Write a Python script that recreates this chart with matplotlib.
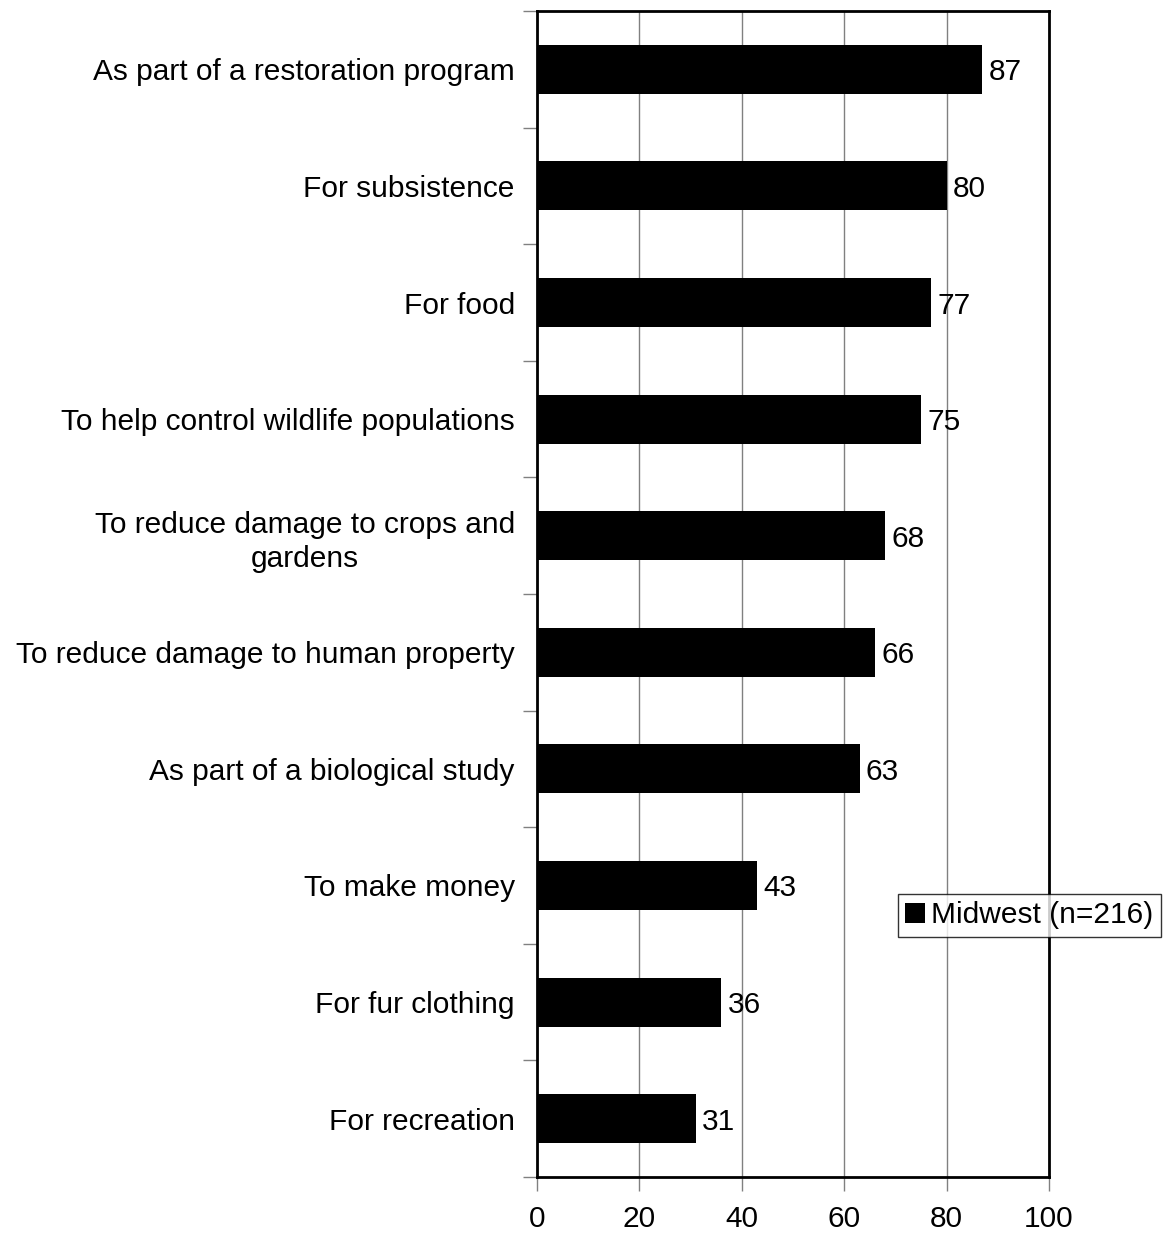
import matplotlib.pyplot as plt
from matplotlib.ticker import FixedLocator

plt.rcParams['font.family'] = ['Liberation Sans', 'DejaVu Sans']

# Data, top to bottom as in the chart
reasons = [
    "As part of a restoration program",
    "For subsistence",
    "For food",
    "To help control wildlife populations",
    "To reduce damage to crops and\ngardens",
    "To reduce damage to human property",
    "As part of a biological study",
    "To make money",
    "For fur clothing",
    "For recreation",
]
midwest = [87, 80, 77, 75, 68, 66, 63, 43, 36, 31]
series_label = "Midwest (n=216)"
x_ticks = [0, 20, 40, 60, 80, 100]

FS = 21.5

fig = plt.figure(figsize=(11.69, 12.33), dpi=100)
ax = fig.add_axes([537 / 1169, 56 / 1233, 512 / 1169, 1166 / 1233])

ypos = list(range(len(reasons)))
bars = ax.barh(ypos, midwest, height=0.42, color='black', label=series_label, zorder=3)

# value labels
for y, v in zip(ypos, midwest):
    ax.annotate(str(v), xy=(v, y), xytext=(4.5, 0), textcoords='offset points',
                va='center_baseline', ha='left', fontsize=FS, zorder=4)

ax.set_xlim(0, 100)
ax.set_ylim(len(reasons) - 0.5, -0.5)
ax.set_xticks(x_ticks)
ax.set_xticklabels([str(t) for t in x_ticks], fontsize=FS)

# category labels at bar centres, tick marks at category boundaries
ax.set_yticks(ypos)
ax.set_yticklabels(reasons, fontsize=FS, multialignment='center', linespacing=1.3)
ax.yaxis.set_minor_locator(FixedLocator([i - 0.5 for i in range(len(reasons) + 1)]))
ax.tick_params(axis='y', which='major', length=0, pad=16)
ax.tick_params(axis='y', which='minor', length=10, width=1, color='#808080', direction='out')
ax.tick_params(axis='x', which='major', length=10, width=1, color='#808080', direction='out', pad=10)

ax.grid(axis='x', color='#808080', linewidth=1, zorder=0)
for s in ax.spines.values():
    s.set_linewidth(2)
    s.set_color('black')

leg = fig.legend(handles=[bars], labels=[series_label], loc='upper left',
                 bbox_to_anchor=(898 / 1169, 1 - 894 / 1233), fontsize=FS,
                 frameon=True, fancybox=False, shadow=False, borderpad=0.25,
                 handlelength=0.65, handleheight=0.65, handletextpad=0.2, borderaxespad=0)
leg.get_frame().set_edgecolor('black')
leg.get_frame().set_linewidth(1)

fig.savefig("out.png", dpi=100)
